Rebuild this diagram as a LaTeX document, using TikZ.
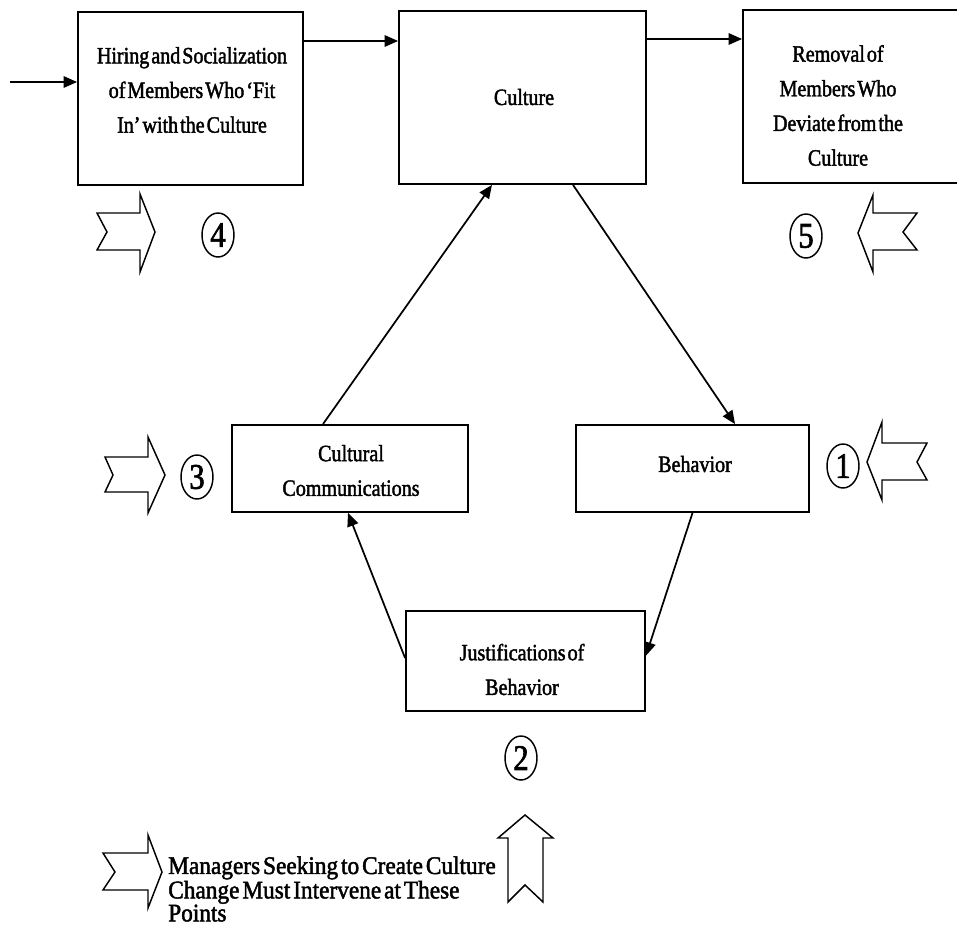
\documentclass[tikz,border=0pt]{standalone}
\usepackage{fontspec}
\setmainfont{Liberation Serif}[FakeBold=1.8]
\newfontfamily\boxfont{Liberation Serif}[FakeStretch=0.86, FakeBold=1.8, WordSpace=0.4]
\newfontfamily\legendfont{Liberation Serif}[FakeStretch=0.92, FakeBold=1.8, WordSpace=0.5]
\newfontfamily\numfont{Liberation Serif}[FakeStretch=0.85, FakeBold=1.8]
\usetikzlibrary{arrows.meta,shapes.geometric}
\tikzset{
  boxnode/.style={draw, line width=1.4pt, inner sep=0pt},
  boxtext/.style={align=center, inner sep=0pt, font=\boxfont\fontsize{17.5}{26}\selectfont},
  conn/.style={line width=1.3pt, -{Triangle[length=10pt,width=8.5pt]}},
  numcirc/.style={ellipse, draw, line width=1.1pt, inner sep=0pt, minimum width=24pt, minimum height=33pt, font=\numfont\fontsize{27}{27}\selectfont},
  blockarr/.style={draw, line width=1.1pt, line join=miter, fill=white},
}
\begin{document}
\begin{tikzpicture}[x=0.75pt,y=-0.75pt]
\useasboundingbox (0,0) rectangle (957,943);
% boxes
\node[boxnode, minimum width=168.75pt, minimum height=129.75pt] (hiring) at (190.5,98.5) {};
\node[boxnode, minimum width=185.25pt, minimum height=129.75pt] (culture) at (522.5,97.5) {};
\node[boxnode, minimum width=174pt, minimum height=129.75pt] (removal) at (859,96.5) {};
\node[boxnode, minimum width=177pt, minimum height=65.25pt] (cc) at (350,468.5) {};
\node[boxnode, minimum width=174.75pt, minimum height=65.25pt] (behavior) at (692.5,468.5) {};
\node[boxnode, minimum width=179.25pt, minimum height=75pt] (justif) at (525.5,661) {};
% texts
\node[boxtext] (hiringtxt) at (192,90) {Hiring and Socialization\\of Members Who ‘Fit\\In’ with the Culture};
\node[boxtext] (culturetxt) at (524,97) {Culture};
\node[boxtext] (removaltxt) at (838,105.5) {Removal of\\Members Who\\Deviate from the\\Culture};
\node[boxtext] (cctxt) at (351,470.5) {Cultural\\Communications};
\node[boxtext] (behtxt) at (695,464) {Behavior};
\node[boxtext] (justxt) at (522,669.5) {Justifications of\\Behavior};
% connectors
\coordinate (instart) at (10,82);
\coordinate (row1) at (0,41);
\coordinate (row2) at (0,39);
\draw[conn] (instart) -- (instart -| hiring.west);
\draw[conn] (row1 -| hiring.east) -- (row1 -| culture.west);
\draw[conn] (row2 -| culture.east) -- (row2 -| removal.west);
\draw[conn] ([xshift=37.9pt]culture.south) -- ([xshift=31.9pt]behavior.north);
\draw[conn] ([xshift=-20.25pt]cc.north) -- ([xshift=-22.9pt]culture.south);
\draw[conn] (behavior.south) -- ([yshift=4pt]justif.east);
\draw[conn] ([yshift=2.25pt]justif.west) -- ([xshift=-1.5pt]cc.south);
% numbered circles
\node[numcirc] (n4) at (218,235) {4};
\node[numcirc] (n5) at (806,236) {5};
\node[numcirc] (n3) at (197,477) {3};
\node[numcirc] (n1) at (843,466) {1};
\node[numcirc] (n2) at (521,758) {2};
% block arrows
\draw[blockarr] (97,213) -- (140,213) -- (140,194) -- (155,232) -- (140,272) -- (140,250) -- (97,250) -- (107,232) -- cycle;
\draw[blockarr] (105,457) -- (148,457) -- (148,437) -- (165,475) -- (148,513) -- (148,492) -- (105,492) -- (113,475) -- cycle;
\draw[blockarr] (927,443) -- (882,443) -- (882,422) -- (867,462) -- (882,500) -- (882,480) -- (927,480) -- (917,462) -- cycle;
\draw[blockarr] (917,213) -- (873,213) -- (873,195) -- (858,233) -- (873,272) -- (873,250) -- (917,250) -- (903,232) -- cycle;
\draw[blockarr] (103,853) -- (148,853) -- (148,835) -- (162,872) -- (148,908) -- (148,890) -- (103,890) -- (115,872) -- cycle;
\draw[blockarr] (508,902) -- (508,838) -- (498,838) -- (525,815) -- (553,838) -- (543,838) -- (543,902) -- (525,885) -- cycle;
% legend
\node[anchor=west, align=left, inner sep=0pt, font=\legendfont\fontsize{19}{17.25}\selectfont] (legend) at (168,889) {Managers Seeking to Create Culture\\Change Must Intervene at These\\Points};
\end{tikzpicture}
\end{document}
